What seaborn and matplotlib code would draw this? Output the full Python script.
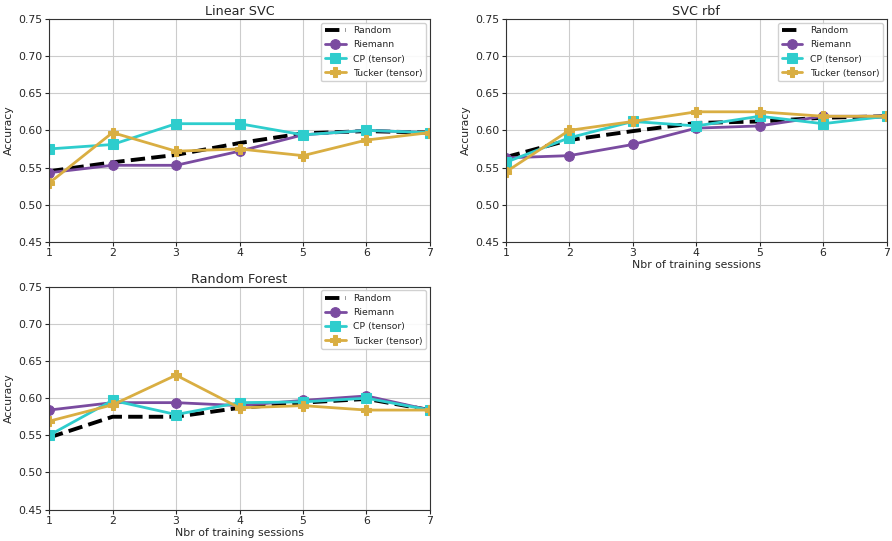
import numpy as np
import pandas as pd
import matplotlib
matplotlib.use("Agg")
import matplotlib.pyplot as plt
import seaborn as sns

sessions = [1, 2, 3, 4, 5, 6, 7]
methods = ["Random", "Riemann", "CP (tensor)", "Tucker (tensor)"]

# Linear SVC accuracies
lin_random = [0.545, 0.557, 0.567, 0.583, 0.596, 0.599, 0.597]
lin_riemann = [0.543, 0.553, 0.553, 0.572, 0.594, 0.600, 0.597]
lin_cp = [0.575, 0.581, 0.609, 0.609, 0.594, 0.600, 0.597]
lin_tucker = [0.529, 0.597, 0.572, 0.575, 0.566, 0.587, 0.597]

# SVC rbf accuracies
rbf_random = [0.564, 0.587, 0.599, 0.610, 0.612, 0.617, 0.619]
rbf_riemann = [0.563, 0.566, 0.581, 0.603, 0.606, 0.619, 0.619]
rbf_cp = [0.557, 0.590, 0.612, 0.606, 0.619, 0.609, 0.619]
rbf_tucker = [0.544, 0.600, 0.612, 0.625, 0.625, 0.619, 0.619]

# Random Forest accuracies
rf_random = [0.547, 0.575, 0.575, 0.587, 0.594, 0.599, 0.584]
rf_riemann = [0.584, 0.594, 0.594, 0.590, 0.597, 0.603, 0.584]
rf_cp = [0.550, 0.597, 0.578, 0.594, 0.595, 0.600, 0.584]
rf_tucker = [0.569, 0.591, 0.631, 0.587, 0.590, 0.584, 0.584]

panels = [
    ("Linear SVC", [lin_random, lin_riemann, lin_cp, lin_tucker], False),
    ("SVC rbf", [rbf_random, rbf_riemann, rbf_cp, rbf_tucker], True),
    ("Random Forest", [rf_random, rf_riemann, rf_cp, rf_tucker], True),
]

colors = {"Random": "black", "Riemann": "#7a4ba0",
          "CP (tensor)": "#2ecdcd", "Tucker (tensor)": "#d9ae42"}
styles = {"Random": dict(linestyle="--", linewidth=2.8, marker=None),
          "Riemann": dict(linestyle="-", linewidth=2.0, marker="o", markersize=7),
          "CP (tensor)": dict(linestyle="-", linewidth=2.0, marker="s", markersize=7),
          "Tucker (tensor)": dict(linestyle="-", linewidth=2.0, marker="P", markersize=7)}

sns.set_style("whitegrid", {"axes.edgecolor": "#333333", "grid.color": "#cccccc"})
plt.rcParams["font.family"] = ["DejaVu Sans"]

fig = plt.figure(figsize=(8.92, 5.41), dpi=100)
positions = [
    [0.055, 0.553, 0.427, 0.412],
    [0.567, 0.553, 0.427, 0.412],
    [0.055, 0.058, 0.427, 0.412],
]

for (title, series, show_xlabel), pos in zip(panels, positions):
    ax = fig.add_axes(pos)
    for name, vals in zip(methods, series):
        df = pd.DataFrame({"session": sessions, "acc": vals})
        st = styles[name]
        sns.lineplot(data=df, x="session", y="acc", ax=ax, color=colors[name],
                     label=name, linestyle=st["linestyle"], linewidth=st["linewidth"],
                     marker=st["marker"], markersize=st.get("markersize", 0),
                     markeredgecolor=colors[name])
    ax.set_xlim(1, 7)
    ax.set_ylim(0.45, 0.75)
    ax.set_xticks(sessions)
    ax.set_yticks(np.arange(0.45, 0.751, 0.05))
    ax.set_yticklabels([f"{v:.2f}" for v in np.arange(0.45, 0.751, 0.05)])
    ax.tick_params(labelsize=7.8, length=3, pad=1.5, left=True, bottom=True)
    ax.set_title(title, fontsize=9.2, pad=3)
    ax.set_ylabel("Accuracy", fontsize=7.8, labelpad=3)
    ax.set_xlabel("Nbr of training sessions" if show_xlabel else "",
                  fontsize=7.8, labelpad=1.5)
    for sp in ax.spines.values():
        sp.set_color("#333333")
        sp.set_linewidth(0.8)
    ax.legend(loc="upper right", fontsize=6.7, frameon=True, framealpha=0.9,
              edgecolor="#cccccc", fancybox=True, handlelength=2.2,
              borderaxespad=0.4, labelspacing=0.55)

fig.savefig("out.png", dpi=100, facecolor="white")
